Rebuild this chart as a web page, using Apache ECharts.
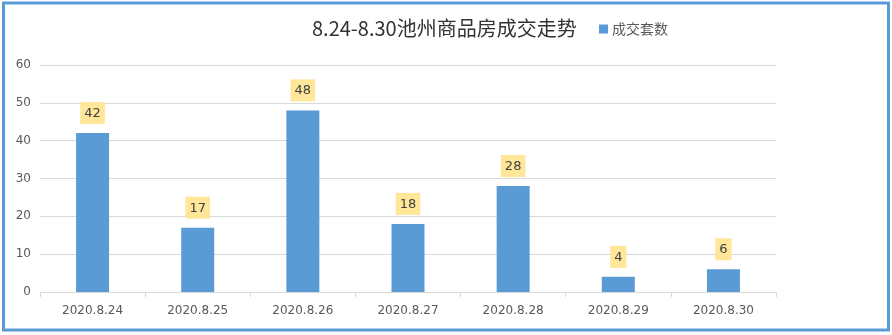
<!DOCTYPE html>
<html>
<head>
<meta charset="utf-8">
<script src="https://cdn.jsdelivr.net/npm/echarts@6/dist/echarts.min.js"></script>
<style>
html,body{margin:0;padding:0;background:#fff;}
#c{width:892px;height:335px;}
</style>
</head>
<body>
<div id="c"></div>
<script>
var titleText = '8.24-8.30池州商品房成交走势';
var seriesName = '成交套数';
var categories = ['2020.8.24','2020.8.25','2020.8.26','2020.8.27','2020.8.28','2020.8.29','2020.8.30'];
var values = [42, 17, 48, 18, 28, 4, 6];

var chart = echarts.init(document.getElementById('c'), null, {renderer:'canvas'});
chart.setOption({
  animation: false,
  backgroundColor: '#fff',
  graphic: [{
    type: 'rect',
    shape: {x: 3.5, y: 3, width: 885, height: 327},
    style: {fill: 'none', stroke: '#5B9BD5', lineWidth: 3},
    silent: true
  }],
  title: {
    text: titleText,
    left: 307,
    top: 13,
    textStyle: {fontFamily: 'Noto Sans CJK SC', fontSize: 20, fontWeight: 'normal', color: '#333333'}
  },
  legend: {
    data: [seriesName],
    left: 594,
    top: 17,
    icon: 'rect',
    itemWidth: 9,
    itemHeight: 9,
    itemGap: 5,
    textStyle: {fontFamily: 'Noto Sans CJK SC', fontSize: 14, color: '#595959', padding: [0,0,0,-1]}
  },
  grid: {left: 40, right: 116, top: 65, bottom: 43, containLabel: false},
  xAxis: {
    type: 'category',
    data: categories,
    axisLine: {lineStyle: {color: '#d9d9d9'}},
    axisTick: {show: true, length: 5, lineStyle: {color: '#d9d9d9'}},
    axisLabel: {fontFamily: 'DejaVu Sans', fontSize: 12, color: '#595959', margin: 13}
  },
  yAxis: {
    type: 'value',
    min: 0, max: 60, interval: 10,
    axisLine: {show: false},
    axisTick: {show: false},
    splitLine: {lineStyle: {color: '#d9d9d9'}},
    axisLabel: {fontFamily: 'DejaVu Sans', fontSize: 12, color: '#595959', margin: 9}
  },
  series: [{
    name: seriesName,
    type: 'bar',
    data: values,
    barWidth: 33,
    itemStyle: {color: '#5B9BD5'},
    label: {
      show: true,
      position: 'top',
      distance: 9,
      fontFamily: 'DejaVu Sans',
      fontSize: 13,
      lineHeight: 15,
      color: '#404040',
      backgroundColor: '#FFE699',
      padding: [4, 4, 3, 4]
    }
  }]
});
</script>
</body>
</html>
